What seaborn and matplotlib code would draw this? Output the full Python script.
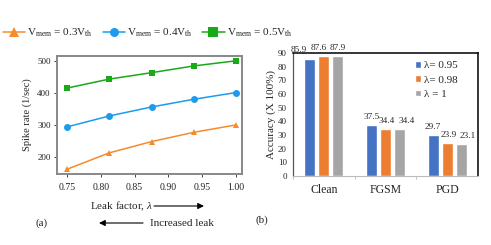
import matplotlib
matplotlib.use("Agg")
import matplotlib.pyplot as plt
import seaborn as sns
import pandas as pd
import numpy as np

# ---- data ----
leak = [0.75, 0.8125, 0.875, 0.9375, 1.0]
v03 = [162, 213, 248, 277, 300]
v04 = [294, 328, 356, 380, 401]
v05 = [415, 443, 463, 484, 500]
series_names = [r"V$_{\mathregular{mem}}$ = 0.3V$_{\mathregular{th}}$",
                r"V$_{\mathregular{mem}}$ = 0.4V$_{\mathregular{th}}$",
                r"V$_{\mathregular{mem}}$ = 0.5V$_{\mathregular{th}}$"]

attacks = ["Clean", "FGSM", "PGD"]
acc_095 = [85.9, 37.5, 29.7]
acc_098 = [87.6, 34.4, 23.9]
acc_1 = [87.9, 34.4, 23.1]
lam_names = ["λ= 0.95", "λ= 0.98", "λ = 1"]

sns.set_theme(style="white")
plt.rcParams['font.family'] = ['Liberation Serif', 'DejaVu Serif']
plt.rcParams['mathtext.fontset'] = 'custom'
plt.rcParams['mathtext.rm'] = 'Liberation Serif'
plt.rcParams['mathtext.it'] = 'Liberation Serif:italic'

W, H = 491, 245
fig = plt.figure(figsize=(W / 100, H / 100), dpi=100)
axL = fig.add_axes([57 / W, 1 - 174 / H, 185 / W, 118 / H])
axR = fig.add_axes([293 / W, 1 - 176 / H, 185 / W, 123 / H])

# ---- left line chart ----
df = pd.DataFrame({
    "leak": leak * 3,
    "rate": v03 + v04 + v05,
    "series": [series_names[0]] * 5 + [series_names[1]] * 5 + [series_names[2]] * 5,
})
line_colors = ["#F68B2D", "#1D9BEE", "#19A919"]
markers = ["^", "o", "s"]
sns.lineplot(data=df, x="leak", y="rate", hue="series", style="series",
             palette=line_colors, markers=markers, dashes=False,
             markersize=5, markeredgewidth=0, linewidth=1.1, ax=axL, legend=False)
axL.set_xlim(0.735, 1.009)
axL.set_ylim(147, 515)
axL.set_xticks([0.75, 0.80, 0.85, 0.90, 0.95, 1.00])
axL.set_xticklabels(["0.75", "0.80", "0.85", "0.90", "0.95", "1.00"])
axL.set_yticks([200, 300, 400, 500])
axL.tick_params(axis="both", length=2.5, width=0.6, pad=2,
                colors="#222222", bottom=True, left=True, direction="out")
axL.tick_params(axis="x", labelsize=7, pad=4)
axL.tick_params(axis="y", labelsize=6.5)
axL.set_xlabel("")
axL.set_ylabel("Spike rate (1/sec)", fontsize=7.5, labelpad=4)
for s in axL.spines.values():
    s.set_color("#888888")
    s.set_linewidth(1.4)

handles = [plt.Line2D([], [], color=c, marker=m, markersize=6.5, linewidth=1.1, markeredgewidth=0)
           for c, m in zip(line_colors, markers)]
fig.legend(handles, series_names, loc="center left", bbox_to_anchor=(3 / W, 1 - 33 / H),
           ncol=3, frameon=False, fontsize=8, handlelength=2.0, handletextpad=0.2,
           columnspacing=0.85, borderpad=0, borderaxespad=0)

fig.text(90 / W, 1 - 206 / H, r"Leak factor, $\it{\lambda}$", fontsize=8, va="center", ha="left")
fig.text(150 / W, 1 - 223 / H, "Increased leak", fontsize=8, va="center", ha="left")
fig.text(36 / W, 1 - 223 / H, "(a)", fontsize=8, va="center", ha="left")
axL.annotate("", xy=(204 / W, 1 - 206 / H), xytext=(154 / W, 1 - 206 / H),
             xycoords="figure fraction",
             arrowprops=dict(arrowstyle="-|>", color="black", lw=0.8, mutation_scale=9,
                             shrinkA=0, shrinkB=0))
axL.annotate("", xy=(99 / W, 1 - 223 / H), xytext=(143 / W, 1 - 223 / H),
             xycoords="figure fraction",
             arrowprops=dict(arrowstyle="-|>", color="black", lw=0.8, mutation_scale=9,
                             shrinkA=0, shrinkB=0))

# ---- right bar chart ----
dfb = pd.DataFrame({
    "attack": attacks * 3,
    "acc": acc_095 + acc_098 + acc_1,
    "lam": [lam_names[0]] * 3 + [lam_names[1]] * 3 + [lam_names[2]] * 3,
})
bar_colors = ["#4472C4", "#ED7D31", "#A5A5A5"]
sns.barplot(data=dfb, x="attack", y="acc", hue="lam", palette=bar_colors,
            width=0.68, gap=0.2, saturation=1, ax=axR, legend=True)
# label nudges (pixels) to mimic the manual placement of the original labels
nudges = [[-11, 0, 0], [-5, 1, 1.5], [0, 7, 7]]
for i, cont in enumerate(axR.containers):
    for j, bar in enumerate(cont):
        axR.annotate(f"{bar.get_height():.1f}",
                     xy=(bar.get_x() + bar.get_width() / 2, bar.get_height()),
                     xytext=(nudges[i][j] * 0.72, 3), textcoords="offset points",
                     ha="center", va="bottom", fontsize=6.7)
axR.set_xlim(-0.5, 2.5)
axR.set_ylim(0, 90)
axR.set_yticks(np.arange(0, 91, 10))
axR.tick_params(axis="y", labelsize=6.5, length=0, pad=4.5)
axR.tick_params(axis="x", labelsize=8.5, length=0, pad=6)
axR.set_xlabel("")
axR.set_ylabel("Accuracy (X 100%)", fontsize=8, labelpad=1.5)
for sp in ["top", "right"]:
    axR.spines[sp].set_color("black")
    axR.spines[sp].set_linewidth(1.1)
axR.spines["left"].set_color("#555555")
axR.spines["left"].set_linewidth(0.9)
axR.spines["bottom"].set_color("#BBBBBB")
axR.spines["bottom"].set_linewidth(0.8)
for xb in [-0.5, 0.5, 1.5]:
    axR.plot([xb, xb], [0, -2], color="#BBBBBB", lw=0.6, clip_on=False)
axR.legend(loc="upper left", bbox_to_anchor=(415 / W, 1 - 61 / H),
           bbox_transform=fig.transFigure, frameon=False, fontsize=8,
           handlelength=0.55, handleheight=0.55, handletextpad=0.3, labelspacing=0.45,
           borderpad=0, borderaxespad=0)
fig.text(256 / W, 1 - 220 / H, "(b)", fontsize=8, va="center", ha="left")

fig.savefig("out.png", dpi=100)
